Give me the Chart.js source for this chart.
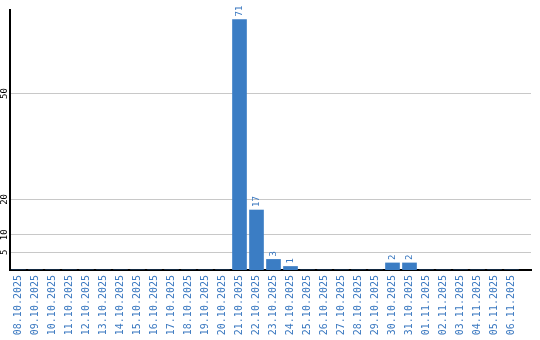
<!DOCTYPE html>
<html>
<head>
<meta charset="utf-8">
<script src="https://cdn.jsdelivr.net/npm/chart.js@4/dist/chart.umd.min.js"></script>
<style>
  html, body { margin: 0; padding: 0; background: #fff; }
  #wrap { width: 540px; height: 340px; position: relative; }
</style>
</head>
<body>
<div id="wrap"><canvas id="chart-days"></canvas></div>
<script>
const dates = [
  "08.10.2025", "09.10.2025", "10.10.2025", "11.10.2025", "12.10.2025",
  "13.10.2025", "14.10.2025", "15.10.2025", "16.10.2025", "17.10.2025",
  "18.10.2025", "19.10.2025", "20.10.2025", "21.10.2025", "22.10.2025",
  "23.10.2025", "24.10.2025", "25.10.2025", "26.10.2025", "27.10.2025",
  "28.10.2025", "29.10.2025", "30.10.2025", "31.10.2025", "01.11.2025",
  "02.11.2025", "03.11.2025", "04.11.2025", "05.11.2025", "06.11.2025"
];
const counts = [
  0, 0, 0, 0, 0, 0, 0, 0, 0, 0,
  0, 0, 0, 71, 17, 3, 1, 0, 0, 0,
  0, 0, 2, 2, 0, 0, 0, 0, 0, 0
];
const yTicks = [5, 10, 20, 50];

(function () {
  const blue = "#3b7dc4";
  const labelBlue = "#3a78c0";
  const mono = "'DejaVu Sans Mono', monospace";

  // rotated value labels above bars + rotated y tick labels
  const textLayer = {
    id: "textLayer",
    afterDatasetsDraw(chart) {
      const ctx = chart.ctx;
      const meta = chart.getDatasetMeta(0);
      ctx.save();
      ctx.fillStyle = labelBlue;
      ctx.font = "9px " + mono;
      ctx.textAlign = "left";
      ctx.textBaseline = "middle";
      meta.data.forEach((bar, i) => {
        if (!counts[i]) return;
        ctx.save();
        ctx.translate(bar.x, bar.y - 3);
        ctx.rotate(-Math.PI / 2);
        ctx.fillText(String(counts[i]), 0, 0);
        ctx.restore();
      });

      const y = chart.scales.y;
      ctx.fillStyle = "#000";
      ctx.font = "9px " + mono;
      ctx.textAlign = "center";
      yTicks.forEach((v) => {
        ctx.save();
        ctx.translate(5, y.getPixelForValue(v));
        ctx.rotate(-Math.PI / 2);
        ctx.fillText(String(v), 0, 0);
        ctx.restore();
      });
      ctx.restore();
    },
  };

  function run() {
    if (typeof Chart === "undefined") return;
    const el = document.getElementById("chart-days");
    new Chart(el, {
      type: "bar",
      data: {
        datasets: [
          {
            data: dates.map((d, i) => ({ x: i, y: counts[i] })),
            backgroundColor: blue,
            borderWidth: 0,
            barThickness: 14,
          },
        ],
      },
      options: {
        responsive: true,
        maintainAspectRatio: false,
        animation: false,
        layout: { padding: { top: 10, right: 9, left: 0, bottom: 0 } },
        plugins: { legend: { display: false }, tooltip: { enabled: false } },
        scales: {
          x: {
            type: "linear",
            offset: false,
            min: -0.5,
            max: 30.147,
            afterBuildTicks(axis) {
              axis.ticks = dates.map((d, i) => ({ value: i }));
            },
            afterFit(axis) {
              axis.height = 70;
              axis.paddingLeft = 0;
              axis.paddingRight = 0;
            },
            grid: { display: false, drawTicks: false },
            border: { color: "#000", width: 2 },
            ticks: {
              autoSkip: false,
              minRotation: 90,
              maxRotation: 90,
              padding: 5,
              color: labelBlue,
              font: { family: mono, size: 10 },
              callback: (v) => dates[v] || "",
            },
          },
          y: {
            min: 0,
            max: 73.7,
            afterBuildTicks(axis) {
              axis.ticks = yTicks.map((v) => ({ value: v }));
            },
            afterFit(axis) { axis.width = 10; },
            grid: { color: "#c8c8c8", drawTicks: false },
            border: { color: "#000", width: 2 },
            ticks: { display: false },
          },
        },
      },
      plugins: [textLayer],
    });
  }

  if (document.readyState === "loading") {
    document.addEventListener("DOMContentLoaded", run);
  } else {
    run();
  }
})();
</script>
</body>
</html>
